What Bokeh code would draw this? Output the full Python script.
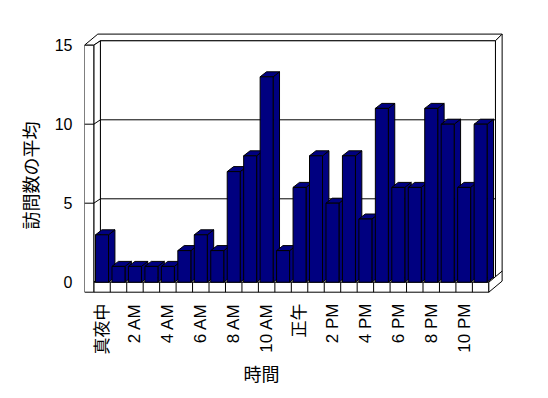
import numpy as np
from bokeh.plotting import figure
from bokeh.models import Range1d, FixedTicker, LinearAxis, Title
from bokeh.embed import file_html
from bokeh.resources import INLINE

# ---- data ----
hours = ["真夜中", "1 AM", "2 AM", "3 AM", "4 AM", "5 AM", "6 AM", "7 AM",
         "8 AM", "9 AM", "10 AM", "11 AM", "正午", "1 PM", "2 PM", "3 PM",
         "4 PM", "5 PM", "6 PM", "7 PM", "8 PM", "9 PM", "10 PM", "11 PM"]
visits = [3, 1, 1, 1, 1, 2, 3, 2, 7, 8, 13, 2, 6, 8, 5, 8, 4, 11, 6, 6, 11, 10, 6, 10]
y_ticks = [0, 5, 10, 15]
y_title = "訪問数の平均"
x_title = "時間"

# ---- geometry (data units) ----
SX, SY = 16.46, 15.8            # px per category / per value unit
n = len(hours)
ymax = y_ticks[-1]
x_start = (84 - 93.3) / SX - 0.5
x_end = (510 - 93.3) / SX - 0.5
y_start = (281.7 - 298) / SY
y_end = (281.7 - 20) / SY

fh = 10 / SY                    # floor thickness
D0, D1 = 6.6 / SX, 4.4 / SY     # floor depth
T0, T1 = 6.7 / SX, 6.7 / SY     # back wall thickness
B0, B1 = 6.4 / SX, 5.0 / SY     # bar depth
bw = 13.0 / SX                  # bar width
xl, xi, xr = x_start, -0.5, n - 0.5

FONT = "Liberation Sans, Noto Sans CJK JP"
JFONT = "Noto Sans CJK JP"

p = figure(width=548, height=398, x_range=Range1d(x_start, x_end),
           y_range=Range1d(y_start, y_end), output_backend="svg",
           toolbar_location=None, x_axis_location=None, y_axis_location=None,
           min_border_left=84, min_border_right=38, min_border_top=20,
           min_border_bottom=100)
p.xgrid.visible = False
p.ygrid.visible = False
p.outline_line_color = None
p.background_fill_color = "white"
p.border_fill_color = "white"

wall = dict(fill_color="white", line_color="black", line_width=1)

# back wall: top (joined with left wall top), right face, inner face
top_x = [xl, xi, xi + D0, xr + D0, xr + D0 + T0, xl + D0 + T0]
top_y = [ymax, ymax, ymax + D1, ymax + D1, ymax + D1 + T1, ymax + D1 + T1]
right_x = [xr + D0, xr + D0, xr + D0 + T0, xr + D0 + T0]
right_y = [D1, ymax + D1, ymax + D1 + T1, D1 + T1]
inner_x = [xi + D0, xr + D0, xr + D0, xi + D0]
inner_y = [D1, D1, ymax + D1, ymax + D1]
p.patches([top_x, right_x, inner_x], [top_y, right_y, inner_y], **wall)

grid_vals = [v for v in y_ticks if 0 < v < ymax]
p.segment(x0=[xi + D0] * len(grid_vals), y0=[v + D1 for v in grid_vals],
          x1=[xr + D0] * len(grid_vals), y1=[v + D1 for v in grid_vals],
          line_color="black", line_width=1)

# left wall inner face, floor top/front/right, left wall front face
lw_in_x = [xi, xi, xi + D0, xi + D0]
lw_in_y = [0, ymax, ymax + D1, D1]
fl_top_x = [xi, xr, xr + D0, xi + D0]
fl_top_y = [0, 0, D1, D1]
fl_front_x = [xi, xr, xr, xi]
fl_front_y = [-fh, -fh, 0, 0]
fl_right_x = [xr, xr, xr + D0 + T0, xr + D0 + T0]
fl_right_y = [0, -fh, -fh + D1 + T1, D1 + T1]
lw_front_x = [xl, xi, xi, xl]
lw_front_y = [-fh, -fh, ymax, ymax]
p.patches([lw_in_x, fl_top_x, fl_front_x, fl_right_x, lw_front_x],
          [lw_in_y, fl_top_y, fl_front_y, fl_right_y, lw_front_y], **wall)

# left-wall ticks and diagonals to back-wall gridlines
p.segment(x0=[xl] * len(grid_vals), y0=grid_vals,
          x1=[xi] * len(grid_vals), y1=grid_vals, line_color="black")
p.segment(x0=[xi] * len(grid_vals), y0=grid_vals,
          x1=[xi + D0] * len(grid_vals), y1=[v + D1 for v in grid_vals],
          line_color="black")
# floor category divisions
divs = [i - 0.5 for i in range(1, n)]
p.segment(x0=divs, y0=[-fh] * len(divs), x1=divs, y1=[0] * len(divs),
          line_color="black")

# bars (side, top, front for each, left to right)
bxs, bys = [], []
for i, v in enumerate(visits):
    L, R = i - bw / 2, i + bw / 2
    bxs += [[R, R, R + B0, R + B0], [L, R, R + B0, L + B0], [L, R, R, L]]
    bys += [[0, v, v + B1, B1], [v, v, v + B1, v + B1], [0, 0, v, v]]
p.patches(bxs, bys, fill_color="#000080", line_color="black", line_width=1)

# ---- axes ----
yax = LinearAxis(ticker=FixedTicker(ticks=y_ticks))
yax.axis_line_color = None
yax.major_tick_line_color = None
yax.minor_tick_line_color = None
yax.major_tick_in = 0
yax.major_tick_out = 0
yax.major_label_standoff = 12
yax.major_label_text_font = FONT
yax.major_label_text_font_size = "16px"
yax.major_label_text_color = "black"
p.add_layout(yax, "left")

yt = Title(text=y_title, align="left", offset=298 - 229,
           text_font=JFONT, text_font_size="18px", text_font_style="normal",
           text_color="black", standoff=18)
p.add_layout(yt, "left")

show_idx = list(range(0, n, 2))
xax = LinearAxis(ticker=FixedTicker(ticks=show_idx),
                 major_label_overrides={i: hours[i] for i in show_idx})
xax.axis_line_color = None
xax.major_tick_line_color = None
xax.minor_tick_line_color = None
xax.major_tick_in = 0
xax.major_tick_out = 0
xax.major_label_orientation = np.pi / 2
xax.major_label_standoff = 5
xax.major_label_text_font = FONT
xax.major_label_text_font_size = "17px"
xax.major_label_text_color = "black"
p.add_layout(xax, "below")

xt = Title(text=x_title, align="left", offset=243 - 84,
           text_font=JFONT, text_font_size="18px", text_font_style="normal",
           text_color="black", standoff=1)
p.add_layout(xt, "below")

open("out.html", "w").write(file_html(p, INLINE))
